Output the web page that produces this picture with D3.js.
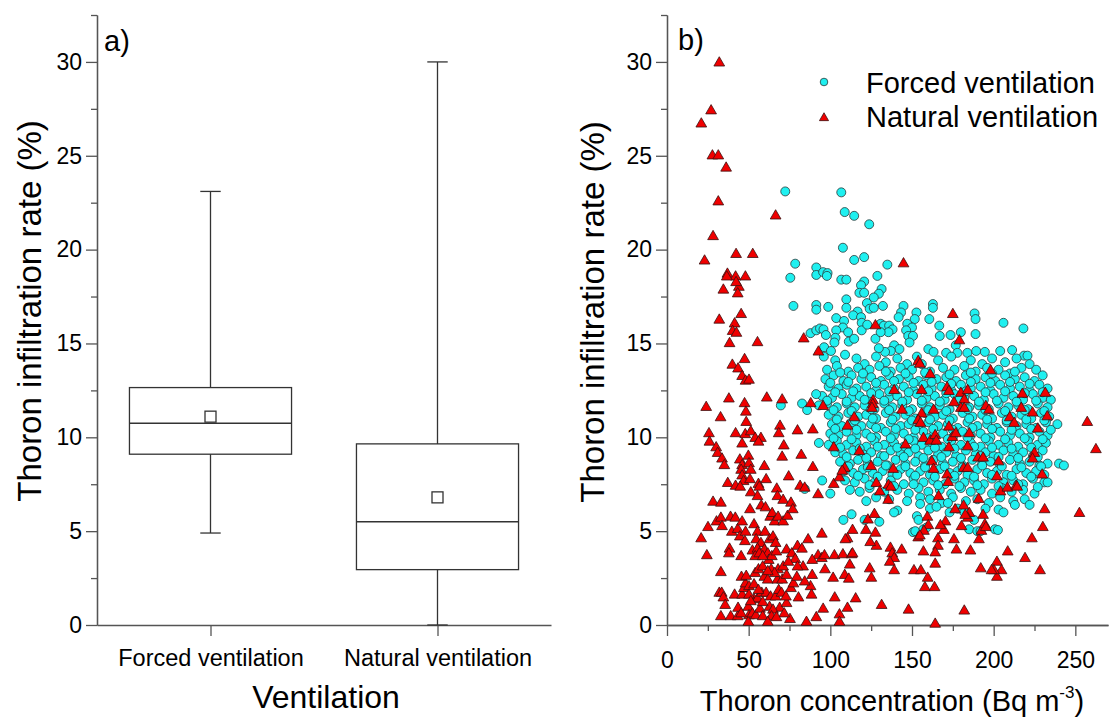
<!DOCTYPE html>
<html>
<head>
<meta charset="utf-8">
<script src="https://cdn.jsdelivr.net/npm/d3@7"></script>
<style>
  body { margin: 0; background: #fff; }
  svg { display: block; font-family: "Liberation Sans", Arial, sans-serif; }
</style>
</head>
<body>
<svg width="1110" height="720"></svg>
<script>
// ---- box plot (panel a) ----
const categories = ["Forced ventilation", "Natural ventilation"];
const boxMin = [4.9, 0];
const boxQ1 = [9.1, 2.95];
const boxMedian = [10.75, 5.5];
const boxQ3 = [12.65, 9.65];
const boxMax = [23.1, 30];
const boxMean = [11.1, 6.8];

const yTicks = [0, 5, 10, 15, 20, 25, 30];
const yMinorTicks = [2.5, 7.5, 12.5, 17.5, 22.5, 27.5, 32.5];
const xTicksB = [0, 50, 100, 150, 200, 250];
const xMinorTicksB = [25, 75, 125, 175, 225];

// ---- scatter (panel b), [thoron concentration, infiltration rate] ----
const forced = [
  [72.4,23.1],[106.7,23.05],[108.8,22.0],[114.6,21.8],[123.8,21.35],[107.7,20.1],[114.6,19.45],[120.7,19.6],[134.9,19.2],
  [78.5,19.25],[75.5,18.5],[91.4,19.05],[91.4,18.65],[95.6,18.8],[98.3,18.75],[97.9,18.6],[106.7,18.4],[109.8,18.4],
  [120.7,18.3],[118.8,18.1],[128.8,18.6],[131.4,17.9],[129.7,17.65],[126.6,17.45],[117.8,17.7],[120.7,17.7],[109.8,17.35],
  [122.4,17.15],[124.1,16.85],[126.6,16.9],[132.2,17.0],[77.4,17.0],[91.4,17.05],[91.4,16.8],[98.7,16.95],[109.8,16.9],
  [116.7,16.7],[114,16.5],[118.8,16.4],[144.8,17.0],[162.8,17.1],[162.8,16.9],[143.3,16.65],[141.8,16.4],[152.7,16.65],
  [151.7,16.3],[188.3,16.6],[188.9,16.3],[160.6,16.3],[166.7,15.95],[206,16.1],[218.2,15.8],[103.6,16.35],[108.4,16.2],
  [107.7,15.85],[119.2,16.1],[119.2,15.7],[122.6,16.0],[130.8,16.05],[132.8,15.95],[136,15.95],[138.1,15.75],[135.6,15.6],
  [147.1,16.05],[150,15.85],[146.4,15.7],[87.9,15.55],[91.4,15.7],[93.7,15.8],[95.8,15.75],[97.3,15.45],[103.6,15.7],
  [103.1,15.3],[102.5,15.05],[110.9,15.6],[111.3,15.1],[114.6,15.25],[127.6,15.25],[130.8,15.6],[147.7,15.4],[150.6,15.4],
  [148.5,15.05],[167,15.4],[173.6,15.45],[179.9,15.6],[188.9,15.5],[176.8,14.9],[177.8,14.5],[160,14.7],[163.2,14.55],
  [170.9,14.5],[183.9,14.5],[189.3,14.6],[194.6,14.55],[204,14.6],[211.3,14.65],[218.6,14.35],[220.7,14.35],[139.1,14.9],
  [142.3,14.7],[137,14.6],[96.2,14.8],[100.4,14.6],[133.5,14.55],[129.7,14.75],
  [96,14.3],[103,14.1],[109,14.4],[116,14.2],[121,13.9],[128,14.3],[134,14.0],[141,14.2],[147,13.9],[153,14.3],[166,14.1],
  [174,14.3],[186,14.1],[193,13.9],[199,14.2],[207,14.0],[214,14.2],[222,13.9],
  [98,13.6],[104,13.8],[111,13.5],[117,13.7],[124,13.6],[130,13.8],[137,13.5],[143,13.7],[150,13.6],[156,13.9],[161,13.5],
  [169,13.7],[176,13.6],[182,13.8],[189,13.5],[196,13.7],[203,13.6],[210,13.4],[217,13.7],[226,13.6],
  [97,13.1],[102,13.3],[108,13.0],[113,13.3],[119,13.1],[125,13.2],[131,13.0],[136,13.3],[142,13.1],[148,13.2],[154,13.0],
  [159,13.3],[165,13.1],[171,13.2],[177,13.0],[183,13.3],[189,13.1],[195,13.2],[201,13.0],[207,13.3],[213,13.1],[219,13.2],
  [225,13.0],[230,13.3],
  [99,12.7],[105,12.6],[110,12.8],[116,12.6],[122,12.7],[128,12.5],[133,12.8],[139,12.6],[145,12.7],[151,12.5],[157,12.8],
  [162,12.6],[168,12.7],[174,12.5],[180,12.8],[186,12.6],[192,12.7],[198,12.5],[204,12.8],[210,12.6],[216,12.7],[222,12.5],
  [228,12.8],[233,12.6],
  [95,12.2],[101,12.1],[107,12.3],[113,12.1],[118,12.2],[124,12.0],[130,12.3],[136,12.1],[141,12.2],[147,12.0],[153,12.3],
  [159,12.1],[164,12.2],[170,12.0],[176,12.3],[182,12.1],[188,12.2],[194,12.0],[200,12.3],[206,12.1],[212,12.2],[218,12.0],
  [224,12.3],[230,12.1],[235,12.0],
  [93,11.7],[98,11.8],[104,11.6],[110,11.8],[115,11.6],[121,11.7],[127,11.5],[133,11.8],[138,11.6],[144,11.7],[150,11.5],
  [156,11.8],[161,11.6],[167,11.7],[173,11.5],[179,11.8],[185,11.6],[191,11.7],[197,11.5],[203,11.8],[209,11.6],[215,11.7],
  [221,11.5],[227,11.8],[233,11.6],
  [99,11.2],[105,11.1],[111,11.3],[117,11.1],[122,11.2],[128,11.0],[134,11.3],[140,11.1],[146,11.2],[152,11.0],[158,11.3],
  [164,11.1],[169,11.2],[175,11.0],[181,11.3],[187,11.1],[193,11.2],[199,11.0],[205,11.3],[211,11.1],[217,11.2],[223,11.0],
  [229,11.3],[234,11.1],
  [101,10.7],[107,10.6],[113,10.8],[119,10.6],[125,10.7],[131,10.5],[137,10.8],[143,10.6],[148,10.7],[154,10.5],[160,10.8],
  [166,10.6],[172,10.7],[178,10.5],[184,10.8],[190,10.6],[196,10.7],[202,10.5],[208,10.8],[214,10.6],[220,10.7],[226,10.5],
  [232,10.8],[239,10.7],
  [100,10.2],[105,10.1],[110,10.3],[116,10.1],[122,10.2],[128,10.0],[134,10.3],[139,10.1],[145,10.2],[151,10.0],[157,10.3],
  [163,10.1],[169,10.2],[175,10.0],[181,10.3],[186,10.1],[192,10.2],[198,10.0],[204,10.3],[210,10.1],[216,10.2],[222,10.0],
  [228,10.3],[233,10.1],
  [93,9.7],[99,9.6],[104,9.8],[110,9.6],[116,9.7],[122,9.5],[127,9.8],[133,9.6],[139,9.7],[145,9.5],[151,9.8],[156,9.6],
  [162,9.7],[168,9.5],[174,9.8],[180,9.6],[186,9.7],[192,9.5],[197,9.8],[203,9.6],[209,9.7],[215,9.5],[221,9.8],[227,9.6],
  [232,9.7],
  [103,9.2],[108,9.1],[114,9.3],[120,9.1],[125,9.2],[131,9.0],[137,9.3],[143,9.1],[148,9.2],[154,9.0],[160,9.3],[166,9.1],
  [171,9.2],[177,9.0],[183,9.3],[189,9.1],[195,9.2],[200,9.0],[206,9.3],[212,9.1],[218,9.2],[224,9.0],[230,9.3],
  [106,8.7],[112,8.6],[117,8.8],[123,8.6],[129,8.7],[135,8.5],[140,8.8],[146,8.6],[152,8.7],[158,8.5],[163,8.8],[169,8.6],
  [175,8.7],[181,8.5],[187,8.8],[193,8.6],[198,8.7],[204,8.5],[210,8.8],[216,8.6],[222,8.7],[228,8.5],[233,8.6],[240,8.6],
  [243,8.5],
  [108,8.2],[114,8.1],[120,8.3],[126,8.1],[132,8.2],[138,8.0],[143,8.3],[149,8.1],[155,8.2],[161,8.0],[167,8.3],[173,8.1],
  [178,8.2],[184,8.0],[190,8.3],[196,8.1],[202,8.2],[208,8.0],[214,8.3],[220,8.1],[226,8.2],[231,8.0],
  [95,7.7],[109,7.7],[115,7.6],[121,7.8],[127,7.6],[137,7.7],[145,7.5],[151,7.8],[157,7.6],[163,7.7],[170,7.5],[176,7.8],
  [182,7.6],[188,7.7],[194,7.5],[199,7.8],[206,7.6],[212,7.7],[218,7.5],[224,7.8],[231,7.6],
  [100,7.0],[112,7.2],[118,7.1],[124,7.3],[133,7.1],[141,7.2],[148,7.0],[154,7.3],[160,7.1],[167,7.2],[174,7.0],[180,7.3],
  [186,7.1],[192,7.2],[199,7.0],[205,7.3],[211,7.1],[218,7.2],[225,7.0],
  [122,6.6],[128,6.8],[136,6.7],[147,6.6],[155,6.8],[161,6.7],[168,6.5],[175,6.8],[183,6.6],[190,6.7],[197,6.5],[204,6.8],
  [212,6.6],[219,6.7],
  [108,5.6],[113,5.9],[121,5.6],[130,5.5],[141,6.1],[153,5.8],[155,6.45],[161,6.2],[165,6.3],[172,6.5],[173,6.0],[178,6.2],
  [182,6.0],[188,5.6],[195,6.2],[203,6.15],[206,6.0],[213,6.4],[222,6.4],[233,7.6],
  [150.6,4.95],[152,5.0],[157,5.1],[159,5.2],[185,5.1],[190,5.0],[192,5.0],[200.8,5.1],[202.6,5.06],[154,5.6],[139,6.0],
  [69.7,11.7],[82.7,11.8],[85.8,11.45],[91.3,12.3],[84.3,7.25],
  // dense core, second layer
  [106,13.45],[120,13.4],[134,13.5],[146,13.4],[158,13.45],[173,13.35],[186,13.45],[199,13.4],[213,13.5],
  [100,12.9],[111,12.95],[128,12.9],[139,13.0],[151,12.9],[162,12.95],[174,12.85],[186,12.95],[198,12.9],[210,12.95],[222,12.85],
  [103,12.4],[114,12.45],[125,12.35],[136,12.45],[148,12.4],[160,12.45],[171,12.35],[183,12.45],[195,12.4],[207,12.45],
  [219,12.35],[230,12.4],
  [98,11.95],[110,11.9],[121,12.0],[133,11.95],[144,11.9],[156,11.95],[167,11.9],[179,12.0],[191,11.9],[202,11.95],
  [214,11.9],[226,11.95],
  [102,11.45],[113,11.4],[125,11.5],[136,11.45],[148,11.4],[160,11.45],[171,11.4],[184,11.5],[195,11.45],[207,11.4],
  [219,11.45],[231,11.4],
  [104,10.95],[115,10.9],[126,11.0],[138,10.95],[150,10.9],[161,10.95],[173,10.9],[185,11.0],[196,10.95],[208,10.9],
  [220,10.95],[231,10.9],
  [103,10.45],[116,10.4],[128,10.5],[140,10.45],[152,10.4],[163,10.45],[175,10.4],[187,10.5],[199,10.45],[211,10.4],
  [223,10.45],[235,10.4],
  [102,9.95],[113,9.9],[125,10.0],[137,9.95],[148,9.9],[160,9.95],[172,9.9],[184,10.0],[195,9.95],[207,9.9],[219,9.95],[230,9.9],
  [106,9.45],[118,9.4],[129,9.5],[141,9.45],[152,9.4],[164,9.45],[176,9.4],[188,9.5],[199,9.45],[211,9.4],[223,9.45],
  [110,8.95],[122,8.9],[133,9.0],[145,8.95],[157,8.9],[168,8.95],[180,8.9],[192,9.0],[203,8.95],[215,8.9],[227,8.95],
  [111,8.45],[123,8.4],[134,8.5],[146,8.45],[158,8.4],[170,8.45],[181,8.4],[193,8.5],[205,8.45],[217,8.4],[229,8.45],
  [117,7.95],[129,7.9],[141,8.0],[152,7.95],[164,7.9],[176,7.95],[188,7.9],[199,8.0],[211,7.95],[223,7.9],
  [124,7.45],[139,7.4],[151,7.5],[166,7.45],[179,7.4],[190,7.45],[203,7.4],[215,7.5],[227,7.35]
];

const natural = [
  [32,30.0],[27,27.45],[21,26.75],[27.8,25.05],[31.4,25.05],[36.2,24.4],[31.4,22.6],[66.5,21.85],[28.2,20.75],[23,19.45],
  [42.3,19.8],[52.5,19.8],[144.8,19.3],[37,18.75],[42,18.6],[48,18.6],[36.6,18.6],[34.5,17.9],[44,18.05],[42.3,18.3],
  [43.3,17.7],[32,16.3],[45.4,16.6],[41.4,16.1],[40.2,15.7],[42.5,15.6],[38.3,15.05],[55.4,15.1],[83.7,15.3],[175,16.6],
  [179,15.2],[92.7,14.6],[127.6,16.0],[47.5,14.2],
  [40,13.9],[43.5,13.7],[46,13.3],[48.1,13.05],[50.2,13.1],[37.9,12.1],[61.1,12.15],[70.5,12.05],[24,11.65],[47.5,11.85],
  [48.3,11.4],[32.8,11.1],[48.5,10.85],[25.7,10.25],[26,9.8],[42,10.25],[46,9.7],[47.9,10.2],[51.3,10.35],[54,10],[57.5,10],
  [56,9.8],[30.1,9.5],[31,9.2],[33.7,8.9],[35.1,8.55],[37.2,7.6],[44.6,8.85],[46,8.55],[45.4,8.3],[49.8,9.05],[50.2,8.65],
  [46,8.0],[51.3,8.3],[46.9,7.7],[42,7.45],[44.8,7.4],[50.8,7.8],[59.6,8.5],[60.7,7.8],[56,7.55],[56.5,7.4],[51.3,7.1],
  [55.4,6.9],[69.2,10.65],[68.4,10.25],[71.5,9.6],[70.5,9.0],[79.9,10.4],[82.2,9.1],[89.3,10.45],[89.3,8.45],[95.6,11.7],
  [88,11.85],[74.5,7.95],[81.5,7.45],[84.3,7.35],[92.5,7.0],[67.2,7.3],[28.2,6.6],[33,6.55],
  [20.9,4.65],[24.4,3.75],[25.1,5.25],[30.3,5.55],[33,5.75],[33.7,5.3],[38.9,5.8],[41.8,5.75],[39.7,5.0],[43.3,5.15],
  [46,5.55],[44.6,4.75],[48.1,5.0],[47.7,4.5],[50.8,6.2],[53.3,5.4],[55.4,5.0],[57.7,6.4],[60.3,6.3],[63.2,5.8],[64.4,6.0],
  [65.9,5.55],[67.6,6.9],[71.1,6.7],[68,5.8],[71.1,5.55],[73.8,5.85],[75.9,6.55],[77,6.2],[54.6,4.6],[57.5,4.4],[60,5.0],
  [62.8,4.6],[64.9,4.75],[66.5,4.4],[38.3,4.1],[37.9,3.85],[45.4,3.7],[52.3,4.0],[55.4,4.1],[54,3.7],[59.6,4.05],
  [61.7,3.85],[62.3,3.5],[64.2,3.7],[66.9,3.95],[73.2,4.05],[76.4,3.85],[78.5,3.55],[79.9,4.25],[82.6,4.1],[86.4,4.6],
  [94.8,4.9],[92.5,3.75],[94.8,3.6],[96.4,3.75],[83.3,3.15],[88.9,3.5],[102.5,3.75],[107.7,3.8],[113,3.8],[111.9,3.25],
  [96.7,3.0],[101.7,2.55],[108.8,2.7],[111.3,2.5],[88.9,2.7],[87.9,2.1],[88.5,1.65],[80.5,1.5],[102.7,1.5],[115.5,1.45],
  [95.6,0.9],[110.5,0.95],[105.6,0.6],[105.6,0.2],[91.4,0.45],[85.4,0.2],[75.3,0.35],[69,0.95],[71.8,0.65],[73.2,1.2],
  [33,2.85],[32,1.75],[33.5,1.75],[34.5,1.5],[35.6,1.1],[33,0.5],[39,0.5],[43.3,0.5],[41.4,1.65],[46,1.65],[47.1,2.0],
  [48.1,2.25],[45.6,2.6],[48.5,2.65],[50.2,2.1],[53.3,2.2],[49.8,1.0],[50.2,0.55],[49.8,0.2],[52.3,0.65],[54.4,0.55],
  [56.9,0.9],[58.6,0.5],[53.3,1.4],[55.4,1.45],[58,1.75],[54,2.8],[56,3.0],[58.6,3.15],[59.6,2.6],[61.7,2.45],[60.7,1.75],
  [63.4,1.55],[62.8,1.0],[64.9,0.85],[64,0.5],[67,0.45],[66.5,1.55],[68.4,1.9],[70.1,1.75],[67.6,2.45],[70.5,2.45],
  [73.2,2.7],[68,3.0],[71.1,3.15],[74.3,3.4],[63.8,3.0],[65.9,2.8],[56.5,3.85],[58.6,3.7],[61.7,2.9],[75.9,2.0],[77.4,2.25],
  [79.5,2.6],[79.9,3.15],[84.3,2.35],[50.2,1.65],[51.3,1.3],[56,1.9],[58.6,1.25],[72.8,1.55],[61.7,0.2],[43.5,0.95],[45.4,0.65],
  [102.1,9.5],[102.1,7.55],[108.8,8.4],[105.6,7.9],[107.3,8.25],[110.5,10.65],[114.6,11.1],[117.8,9.3],[124.9,8.5],
  [126.2,12.0],[126,11.8],[125.5,11.6],[128.2,7.6],[130.3,7.15],[135.6,7.5],[137,7.4],[135.4,6.7],[138.5,8.35],[139.1,12.55],
  [143.9,11.5],[146,9.65],[153.8,14.1],[154.8,13.95],[161.1,13.4],[155.9,12.55],[155.9,11.3],[153.8,10.95],[155.2,10.8],
  [163.2,11.5],[157,10.0],[161.1,9.85],[164.2,10.15],[164.9,9.85],[162.1,8.75],[163.2,8.35],[166.3,6.9],[171.5,12.7],
  [172.6,12.5],[175.7,11.9],[172.6,10.6],[174.7,10.05],[176.8,10.25],[172.6,9.5],[171.5,8.05],[172.1,7.65],[179.9,12.4],
  [182,12.05],[184.1,12.55],[179.9,11.6],[182,11.6],[181.6,8.4],[184.1,8.4],[185.1,10.25],[184.1,9.55],[190.4,8.95],
  [193.5,8.95],[195.2,11.7],[197.1,11.5],[198.1,13.6],[202,7.95],[203,8.75],[204.2,7.15],[208.4,7.35],[209.8,11.1],
  [212.6,10.8],[213.8,7.45],[214.4,7.4],[217.6,12.35],[216.9,11.6],[223.8,11.35],[224.9,9.2],[223.8,8.9],[227,10.5],
  [231.6,12.4],[232.8,11.15],[229.7,8.05],[257.3,10.85],[262.6,9.4],[252.5,6.0],[231.2,6.2],[223.4,4.65],[230.1,5.25],
  [219.2,3.6],[228.4,2.95],[208.6,3.95],[202,3.4],[204.8,2.95],[202,2.6],[200.2,2.95],[198.7,2.95],[192.1,3.05],[191,4.6],
  [192.5,5.05],[194.6,5.4],[195.2,5.25],[193.5,5.9],[190.8,6.75],[185.1,6.0],[184.1,5.75],[182.6,5.9],[181.6,6.4],
  [176.4,6.2],[185.8,4.0],[180.3,5.3],[177.2,4.05],[175.7,4.6],[170.5,5.55],[169.5,5.1],[167.4,5.35],[165.9,4.65],
  [165.9,4.25],[164.2,3.9],[164.2,3.3],[159.4,5.8],[160,5.35],[157.3,5.05],[153.8,4.7],[154.8,4.8],[157,3.95],[151.2,2.95],
  [155.4,2.95],[159.6,2.55],[157.9,2.05],[163.8,2.05],[182,0.8],[147.9,0.85],[131.4,1.1],[164.2,0.1],[143.7,4.05],
  [136.8,4.15],[137.9,3.85],[139.1,3.6],[136.4,3.4],[139.1,2.95],[127.6,4.95],[128.2,4.25],[124.4,4.45],[121.8,5.1],
  [123,5.65],[127,5.95],[124.1,3.05],[125.1,2.55],[113.6,5.1],[110.5,4.65],[109.2,4.6],[113.6,3.85]
];

const svg = d3.select("svg");
const axisColor = "#555";
const tickFont = 23;
const titleFont = 29;

function styleAxis(g) {
  g.attr("font-family", null).attr("font-size", tickFont);
  g.select(".domain").attr("stroke", axisColor).attr("stroke-width", 1.3);
  g.selectAll(".tick line").attr("stroke", axisColor).attr("stroke-width", 1.3);
  g.selectAll(".tick text").attr("fill", "#000");
}

// ================= panel a =================
const ya = d3.scaleLinear().domain([0, 32.5]).range([625, 15]);
const xa = d3.scaleLinear().domain([0.5, 2.5]).range([97, 551]);

svg.append("g")
    .attr("transform", "translate(97,0)")
    .call(d3.axisLeft(ya).tickValues(yMinorTicks).tickSize(6).tickSizeOuter(0).tickFormat(""))
    .call(styleAxis);
svg.append("g")
    .attr("transform", "translate(97,0)")
    .call(d3.axisLeft(ya).tickValues(yTicks).tickSize(11).tickPadding(4).tickSizeOuter(0))
    .call(styleAxis);
svg.append("g")
    .attr("transform", "translate(0,625)")
    .call(d3.axisBottom(xa).tickValues([1, 2]).tickSize(11).tickPadding(13).tickSizeOuter(0)
        .tickFormat(d => categories[d - 1]))
    .call(styleAxis)
    .attr("font-size", 23.5);

const boxHalf = 0.357, capHalf = 0.045;
const boxes = svg.append("g")
    .attr("fill", "none")
    .attr("stroke", "#333")
    .attr("stroke-width", 1.3)
  .selectAll("g")
  .data(categories)
  .join("g");

boxes.append("line")
    .attr("x1", (d, i) => xa(i + 1)).attr("x2", (d, i) => xa(i + 1))
    .attr("y1", (d, i) => ya(boxMax[i])).attr("y2", (d, i) => ya(boxQ3[i]));
boxes.append("line")
    .attr("x1", (d, i) => xa(i + 1)).attr("x2", (d, i) => xa(i + 1))
    .attr("y1", (d, i) => ya(boxQ1[i])).attr("y2", (d, i) => ya(boxMin[i]));
boxes.append("line")
    .attr("x1", (d, i) => xa(i + 1 - capHalf)).attr("x2", (d, i) => xa(i + 1 + capHalf))
    .attr("y1", (d, i) => ya(boxMax[i])).attr("y2", (d, i) => ya(boxMax[i]));
boxes.append("line")
    .attr("x1", (d, i) => xa(i + 1 - capHalf)).attr("x2", (d, i) => xa(i + 1 + capHalf))
    .attr("y1", (d, i) => ya(boxMin[i])).attr("y2", (d, i) => ya(boxMin[i]));
boxes.append("rect")
    .attr("x", (d, i) => xa(i + 1 - boxHalf))
    .attr("width", (d, i) => xa(i + 1 + boxHalf) - xa(i + 1 - boxHalf))
    .attr("y", (d, i) => ya(boxQ3[i]))
    .attr("height", (d, i) => ya(boxQ1[i]) - ya(boxQ3[i]));
boxes.append("line")
    .attr("x1", (d, i) => xa(i + 1 - boxHalf)).attr("x2", (d, i) => xa(i + 1 + boxHalf))
    .attr("y1", (d, i) => ya(boxMedian[i])).attr("y2", (d, i) => ya(boxMedian[i]));
boxes.append("rect")
    .attr("fill", "#fff")
    .attr("x", (d, i) => xa(i + 1) - 5.5).attr("y", (d, i) => ya(boxMean[i]) - 5.5)
    .attr("width", 11).attr("height", 11);

svg.append("text").attr("x", 104).attr("y", 51).attr("font-size", titleFont).text("a)");
svg.append("text")
    .attr("transform", "translate(41,311) rotate(-90)")
    .attr("text-anchor", "middle").attr("font-size", 33)
    .text("Thoron infiltration rate (%)");
svg.append("text").attr("x", 326).attr("y", 708)
    .attr("text-anchor", "middle").attr("font-size", 32).text("Ventilation");

// ================= panel b =================
const yb = d3.scaleLinear().domain([0, 32.5]).range([625, 15]);
const xb = d3.scaleLinear().domain([0, 270]).range([667, 1108]);

svg.append("g")
    .attr("transform", "translate(667,0)")
    .call(d3.axisLeft(yb).tickValues(yMinorTicks).tickSize(6).tickSizeOuter(0).tickFormat(""))
    .call(styleAxis);
svg.append("g")
    .attr("transform", "translate(667,0)")
    .call(d3.axisLeft(yb).tickValues(yTicks).tickSize(11).tickPadding(4).tickSizeOuter(0))
    .call(styleAxis);
svg.append("g")
    .attr("transform", "translate(0,625)")
    .call(d3.axisBottom(xb).tickValues(xMinorTicksB).tickSize(6).tickSizeOuter(0).tickFormat(""))
    .call(styleAxis);
svg.append("g")
    .attr("transform", "translate(0,625)")
    .call(d3.axisBottom(xb).tickValues(xTicksB).tickSize(11).tickPadding(16).tickSizeOuter(0))
    .call(styleAxis);

const triangle = d3.symbol().type(d3.symbolTriangle).size(50);
const triangleSmall = d3.symbol().type(d3.symbolTriangle).size(36);

svg.append("g")
    .attr("fill", "#1ff0f0").attr("stroke", "#2a3a3a").attr("stroke-width", 0.8)
  .selectAll("circle")
  .data(forced)
  .join("circle")
    .attr("cx", d => xb(d[0])).attr("cy", d => yb(d[1])).attr("r", 4.5);

svg.append("g")
    .attr("fill", "#f00000").attr("stroke", "#3a1010").attr("stroke-width", 0.8)
  .selectAll("path")
  .data(natural)
  .join("path")
    .attr("transform", d => `translate(${xb(d[0])},${yb(d[1]) + 1})`)
    .attr("d", triangle);

// legend
const legend = svg.append("g").attr("font-size", titleFont);
legend.append("circle").attr("cx", 824).attr("cy", 82).attr("r", 3.8)
    .attr("fill", "#1ff0f0").attr("stroke", "#2a3a3a").attr("stroke-width", 0.8);
legend.append("path").attr("transform", "translate(824,118)").attr("d", triangleSmall)
    .attr("fill", "#f00000").attr("stroke", "#3a1010").attr("stroke-width", 0.8);
legend.append("text").attr("x", 866).attr("y", 93).text("Forced ventilation");
legend.append("text").attr("x", 866).attr("y", 127).text("Natural ventilation");

svg.append("text").attr("x", 678).attr("y", 50).attr("font-size", titleFont).text("b)");
svg.append("text")
    .attr("transform", "translate(604,312) rotate(-90)")
    .attr("text-anchor", "middle").attr("font-size", 33)
    .text("Thoron infiltration rate (%)");

const xTitle = svg.append("text").attr("x", 892).attr("y", 711)
    .attr("text-anchor", "middle").attr("font-size", titleFont);
xTitle.append("tspan").text("Thoron concentration (Bq m");
xTitle.append("tspan").attr("font-size", 17).attr("dy", -13).text("-3");
xTitle.append("tspan").attr("dy", 13).text(")");
</script>
</body>
</html>
